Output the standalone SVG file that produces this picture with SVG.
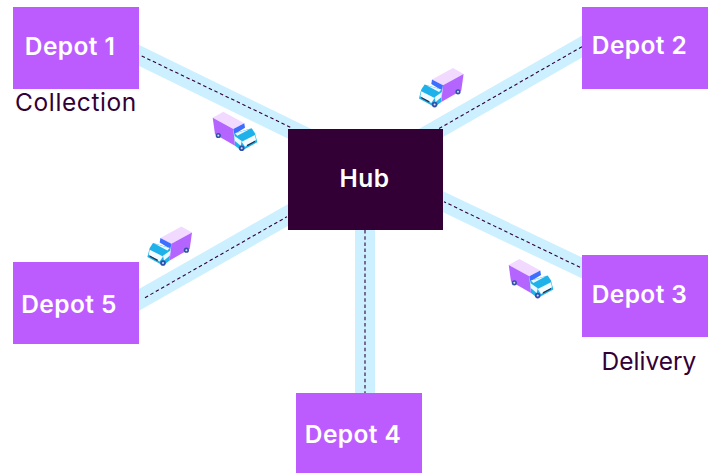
<svg xmlns="http://www.w3.org/2000/svg" width="711" height="473" viewBox="0 0 711 473">
<style>
.depot{fill:#BC5CFF}
.hub{fill:#330036}
.band{stroke:#CCF0FF;stroke-width:19;fill:none}
.band4{stroke:#CCF0FF;stroke-width:20;fill:none}
.dash{stroke:#330036;stroke-width:1.1;stroke-dasharray:3.5 2.7;fill:none}
.lbl{font-family:Inter,"Liberation Sans",sans-serif;font-weight:600;font-size:24.5px;letter-spacing:.4px;fill:#fff;text-anchor:middle}
.cap{font-family:Inter,"Liberation Sans",sans-serif;font-weight:400;font-size:24.5px;fill:#330036;text-anchor:middle}
</style>
<defs>
<g id="truck">
<polygon points="0.7,5.7 11.3,-0.3 32.3,11.3 21.3,17" fill="#F2D9FF"/>
<polygon points="0.7,5.7 21.3,17 23,33.7 3,22.3" fill="#B565FF"/>
<polygon points="21.3,17 32.3,11.3 33,15.7 22.3,22.3" fill="#3D6FFF"/>
<polygon points="22.3,21.3 39.7,16.3 43,21.3 45.3,30.3 29.7,38.7 23,33.7" fill="#1FB2EA"/>
<polygon points="23,21.3 38,17 25.3,23.7" fill="#EAF8FF"/>
<polygon points="22.3,23.7 29.7,29 28.7,33.7 23,29" fill="#EAF8FF"/>
<polygon points="29.7,29.7 43,23 44,28 33,34.7" fill="#F3FBFF"/>
<polygon points="34.7,33 43,28.7 43,30 35.3,34.3" fill="#22304F"/>
<circle cx="6.3" cy="23.5" r="2.6" fill="#3350A8"/><circle cx="6.3" cy="23.5" r="1" fill="#CFE0FF"/>
<circle cx="29.7" cy="36.3" r="2.8" fill="#3350A8"/><circle cx="29.7" cy="36.3" r="1" fill="#CFE0FF"/>
</g>
</defs>
<g id="connectors">
<line class="band" x1="130" y1="51" x2="340" y2="153.5"/>
<line class="band" x1="590" y1="42" x2="400" y2="150.8"/>
<line class="band" x1="590" y1="271.8" x2="420" y2="190.7"/>
<line class="band4" x1="365" y1="225" x2="365" y2="398"/>
<line class="band" x1="130" y1="305.1" x2="310" y2="202.5"/>
<line class="dash" x1="141.7" y1="56" x2="292" y2="128"/>
<line class="dash" x1="582" y1="46.7" x2="438.3" y2="129"/>
<line class="dash" x1="580" y1="267.3" x2="444" y2="201.7"/>
<line class="dash" x1="365" y1="230" x2="365" y2="393"/>
<line class="dash" x1="145" y1="297.7" x2="287" y2="216.7"/>
</g>
<g id="trucks">
<use href="#truck" transform="translate(212,112)"/>
<use href="#truck" transform="translate(464.3,68.3) scale(-1,1)"/>
<use href="#truck" transform="translate(192.7,226.7) scale(-1,1)"/>
<use href="#truck" transform="translate(508,259.3)"/>
</g>
<g id="hub"><rect class="hub" x="288" y="129" width="155" height="101"/><text class="lbl" x="364.5" y="187">Hub</text></g>
<g id="depot1"><rect class="depot" x="13" y="7" width="126" height="82"/><text class="lbl" x="70" y="55">Depot 1</text><text class="cap" x="76" y="111" style="letter-spacing:.6px">Collection</text></g>
<g id="depot2"><rect class="depot" x="582" y="7" width="126" height="82"/><text class="lbl" x="639.5" y="54">Depot 2</text></g>
<g id="depot3"><rect class="depot" x="582" y="255" width="126" height="82"/><text class="lbl" x="639.5" y="303">Depot 3</text><text class="cap" x="649" y="370">Delivery</text></g>
<g id="depot4"><rect class="depot" x="296" y="393" width="126" height="80"/><text class="lbl" x="353" y="443">Depot 4</text></g>
<g id="depot5"><rect class="depot" x="13" y="262" width="126" height="82"/><text class="lbl" x="69" y="313">Depot 5</text></g>
</svg>
